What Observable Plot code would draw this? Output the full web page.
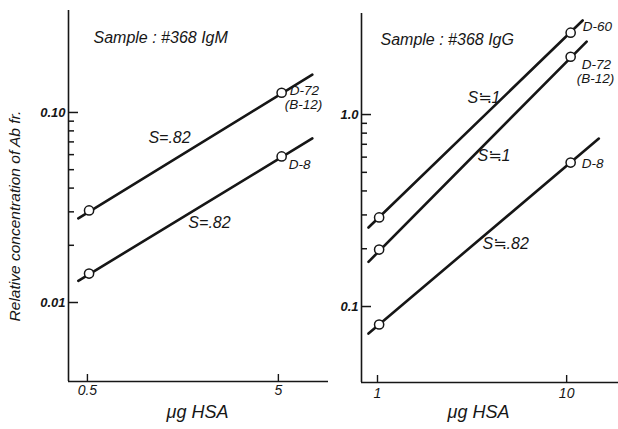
<!DOCTYPE html>
<html>
<head>
<meta charset="utf-8">
<script src="https://cdn.jsdelivr.net/npm/d3@7"></script>
<script src="https://cdn.jsdelivr.net/npm/@observablehq/plot@0.6"></script>
<style>
  body { margin: 0; background: #fff; }
  #wrap { position: relative; width: 618px; height: 429px; overflow: hidden; background: #fff; }
  #wrap > svg { position: absolute; top: 0; }
</style>
</head>
<body>
<div id="wrap"></div>
<script>
// ---------- IgM panel (left) ----------
const igmPointX = [0.51, 5.2];
const igmD72Y = [0.0305, 0.127];
const igmD8Y = [0.0142, 0.0587];
const igmFitX = [0.448, 7.53];
const igmFitD72Y = [0.0277, 0.158];
const igmFitD8Y = [0.0130, 0.0730];
const igmXDomain = [0.398, 9.15];
const igmYDomain = [0.00384, 0.344];
const igmMajorY = [0.01, 0.1];
const igmMajorYLabels = ["0.01", "0.10"];
const igmMinorY = [0.02, 0.03, 0.04, 0.05, 0.06, 0.07, 0.08, 0.09];
const igmTicksX = [0.5, 5];
const igmTicksXLabels = ["0.5", "5"];
const igmTitle = "Sample : #368 IgM";
const igmSlopeText = ["S=.82", "S=.82"];
const igmSlopeX = [1.043, 1.689];
const igmSlopeY = [0.0739, 0.0264];

// ---------- IgG panel (right) ----------
const iggPointX = [1.02, 10.5];
const iggD60Y = [0.291, 2.67];
const iggD72Y = [0.198, 2.0];
const iggD8Y = [0.0806, 0.562];
const iggFitD60X = [0.896, 12.15];
const iggFitD60Y = [0.258, 3.09];
const iggFitD72X = [0.896, 12.76];
const iggFitD72Y = [0.171, 2.4];
const iggFitD8X = [0.896, 14.8];
const iggFitD8Y = [0.0723, 0.75];
const iggXDomain = [0.823, 18.8];
const iggYDomain = [0.0402, 3.36];
const iggMajorY = [0.1, 1];
const iggMajorYLabels = ["0.1", "1.0"];
const iggMinorY = [0.2, 0.3, 0.4, 0.5, 0.6, 0.7, 0.8, 0.9];
const iggTicksX = [1, 10];
const iggTicksXLabels = ["1", "10"];
const iggTitle = "Sample : #368 IgG";
const iggSlopeText = ["S\u22521", "S\u22521", "S\u2252.82"];
const iggSlopeX = [2.99, 3.38, 3.59];
const iggSlopeY = [1.226, 0.612, 0.2126];

const xLabel = "\u03bcg HSA";
const yTitle = "Relative concentration of Ab fr.";

const INK = "#161616";
const FONT = "'Liberation Sans', Arial, 'DejaVu Sans', sans-serif";

function rows(xs, ys, s) { return xs.map((x, i) => ({x, y: ys[i], s})); }

function panel(p) {
  const fitRows = p.fits.flatMap(f => rows(f.x, f.y, f.name));
  const ptRows = p.points.flatMap(f => rows(p.pointX, f.y, f.name));
  const endPts = p.points.map(f => ({name: f.name, x: p.pointX[1], y: f.y[1]}));
  const labelMarks = p.endLabels.map(l =>
    Plot.text(endPts.filter(d => d.name === l.series), {
      x: "x", y: "y", text: () => l.text, textAnchor: "start",
      dx: l.dx, dy: l.dy, fontSize: 13.5, fill: INK
    })
  );
  const svg = Plot.plot({
    width: p.width, height: 429,
    marginLeft: p.ml, marginRight: p.mr, marginTop: p.mt, marginBottom: p.mb,
    x: {type: "log", domain: p.xDomain},
    y: {type: "log", domain: p.yDomain},
    style: {fontFamily: FONT, fontStyle: "italic", color: INK, background: "transparent", overflow: "visible"},
    marks: [
      Plot.ruleX([p.xDomain[0]], {stroke: INK, strokeWidth: 1.6}),
      Plot.ruleY([p.yDomain[0]], {stroke: INK, strokeWidth: 1.6}),
      Plot.axisY({ticks: p.majorY, tickSize: 10, dx: 10, fill: "none", label: null, stroke: INK, strokeWidth: 1.5}),
      Plot.axisY({ticks: p.minorY, tickSize: 6, dx: 6, fill: "none", label: null, stroke: INK, strokeWidth: 1.5}),
      Plot.axisY({ticks: p.majorY, tickSize: 0, tickPadding: 3, label: null, fontSize: 13, fontWeight: 600,
        tickFormat: d => p.majorYLabels[p.majorY.indexOf(d)], fill: INK}),
      Plot.axisX({ticks: p.ticksX, tickSize: 7, dy: -7, fill: "none", label: null, stroke: INK, strokeWidth: 1.4}),
      Plot.axisX({ticks: p.ticksX, tickSize: 0, tickPadding: p.xPad, label: null, fontSize: 14,
        tickFormat: d => p.ticksXLabels[p.ticksX.indexOf(d)], fill: INK}),
      Plot.text([xLabel], {frameAnchor: "bottom", dx: p.xLabelDx, dy: p.xLabelDy, fontSize: 18, fill: INK}),
      Plot.text([p.title], {frameAnchor: "top-left", textAnchor: "start", dx: p.titleDx, dy: p.titleDy, fontSize: 16, fill: INK}),
      Plot.line(fitRows, {x: "x", y: "y", z: "s", stroke: INK, strokeWidth: 2.6}),
      Plot.dot(ptRows, {x: "x", y: "y", r: 4.6, fill: "white", stroke: INK, strokeWidth: 1.5}),
      Plot.text(p.slopeText.map((t, i) => ({t, x: p.slopeX[i], y: p.slopeY[i]})),
        {x: "x", y: "y", text: "t", textAnchor: "start", fontSize: 16, fill: INK}),
      ...labelMarks,
      ...(p.extra || [])
    ]
  });
  svg.style.left = p.left + "px";
  return svg;
}

const wrap = document.getElementById("wrap");

wrap.appendChild(panel({
  left: 0, width: 330, ml: 68, mr: 2, mt: 10, mb: 48,
  xDomain: igmXDomain, yDomain: igmYDomain,
  majorY: igmMajorY, majorYLabels: igmMajorYLabels, minorY: igmMinorY,
  ticksX: igmTicksX, ticksXLabels: igmTicksXLabels, xPad: 4,
  xLabelDx: -1, xLabelDy: 36,
  title: igmTitle, titleDx: 25, titleDy: 21,
  pointX: igmPointX,
  points: [{name: "D-72", y: igmD72Y}, {name: "D-8", y: igmD8Y}],
  fits: [{name: "D-72", x: igmFitX, y: igmFitD72Y}, {name: "D-8", x: igmFitX, y: igmFitD8Y}],
  slopeText: igmSlopeText, slopeX: igmSlopeX, slopeY: igmSlopeY,
  endLabels: [
    {series: "D-72", text: "D-72", dx: 8, dy: -2},
    {series: "D-72", text: "(B-12)", dx: 3, dy: 12},
    {series: "D-8", text: "D-8", dx: 7, dy: 8}
  ],
  extra: [
    Plot.text([yTitle], {frameAnchor: "left", textAnchor: "middle", rotate: -90, dx: -53, dy: 20, fontSize: 15.5, fill: INK})
  ]
}));

wrap.appendChild(panel({
  left: 300, width: 318, ml: 61, mr: 0, mt: 13, mb: 47,
  xDomain: iggXDomain, yDomain: iggYDomain,
  majorY: iggMajorY, majorYLabels: iggMajorYLabels, minorY: iggMinorY,
  ticksX: iggTicksX, ticksXLabels: iggTicksXLabels, xPad: 6,
  xLabelDx: -11.5, xLabelDy: 35,
  title: iggTitle, titleDx: 19, titleDy: 20,
  pointX: iggPointX,
  points: [{name: "D-60", y: iggD60Y}, {name: "D-72", y: iggD72Y}, {name: "D-8", y: iggD8Y}],
  fits: [
    {name: "D-60", x: iggFitD60X, y: iggFitD60Y},
    {name: "D-72", x: iggFitD72X, y: iggFitD72Y},
    {name: "D-8", x: iggFitD8X, y: iggFitD8Y}
  ],
  slopeText: iggSlopeText, slopeX: iggSlopeX, slopeY: iggSlopeY,
  endLabels: [
    {series: "D-60", text: "D-60", dx: 12, dy: -6},
    {series: "D-72", text: "D-72", dx: 11, dy: 8},
    {series: "D-72", text: "(B-12)", dx: 6, dy: 22},
    {series: "D-8", text: "D-8", dx: 11, dy: 1}
  ]
}));
</script>
</body>
</html>
